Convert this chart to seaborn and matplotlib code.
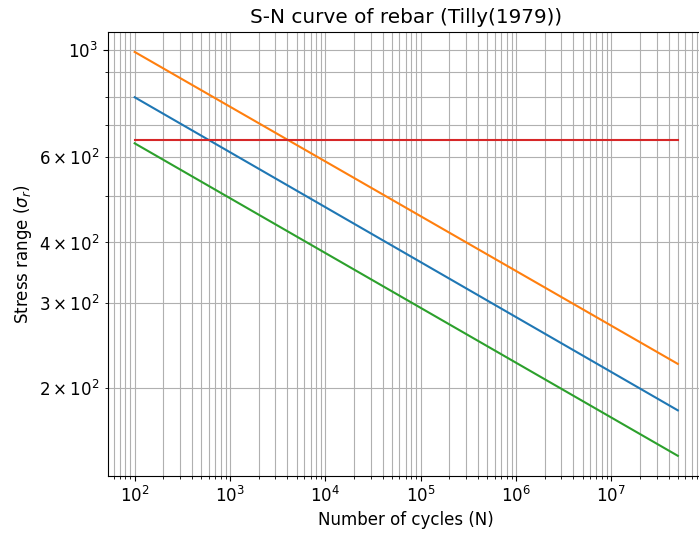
import matplotlib
matplotlib.use("Agg")
import matplotlib.pyplot as plt
import seaborn as sns
import pandas as pd

plt.rcParams["font.size"] = 12

cycles = [1e2, 5e7]
blue_stress = [798, 180]
orange_stress = [990, 224.5]
green_stress = [641, 145]
red_stress = [652, 652]

series = [
    ("C0", blue_stress),
    ("C1", orange_stress),
    ("C2", green_stress),
    ("C3", red_stress),
]

fig = plt.figure(figsize=(6.99, 5.38), dpi=100)
ax = fig.add_axes([0.1538, 0.1152, 0.8548, 0.8258])

for color, stress in series:
    df = pd.DataFrame({"N": cycles, "S": stress})
    sns.lineplot(data=df, x="N", y="S", ax=ax, color=color, linewidth=1.5)

ax.set_xscale("log")
ax.set_yscale("log")
ax.grid(True, which="both")
ax.set_title("S-N curve of rebar (Tilly(1979))")
ax.set_xlabel("Number of cycles (N)")
ax.set_ylabel(r"Stress range ($\sigma_r$)")

fig.savefig("out.png", dpi=100)
